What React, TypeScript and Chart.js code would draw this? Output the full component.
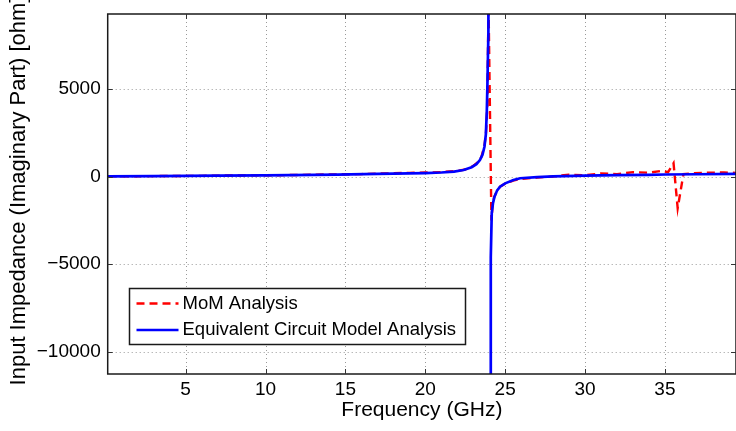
import React, { useEffect, useRef } from "react";
import { Chart, registerables } from "chart.js";

Chart.register(...registerables);

// ---- data ----
const freqEq: (number | null)[] = [
  0.12, 3, 7, 10, 14.5, 17, 19, 20, 21, 21.8, 22.4, 22.9, 23.2, 23.42, 23.58, 23.7, 23.79, 23.85, 23.89, 23.95, 23.99,
  null,
  24.07, 24.1, 24.16, 24.24, 24.33, 24.5, 24.68, 25.0, 25.52, 25.94, 27, 28, 30, 32, 34, 35, 37, 39.45,
];
const imEq: (number | null)[] = [
  20, 30, 60, 80, 120, 160, 190, 210, 240, 290, 380, 540, 720, 950, 1250, 1700, 2400, 3700, 5300, 8200, 30000,
  null,
  -30000, -4600, -2100, -1500, -1150, -780, -570, -380, -190, -90, -20, 20, 60, 90, 110, 125, 140, 160,
];

const freqMoM: number[] = [
  0.12, 2, 4, 6, 8, 10, 12, 14, 16, 18, 19, 20, 21, 22, 22.5, 23, 23.3, 23.5, 23.7, 23.8, 23.88, 23.96,
  24.14, 24.2, 24.3, 24.5, 24.7, 25, 25.5, 26, 27, 28, 29, 30, 31, 32, 33, 34, 34.8, 35.2, 35.54, 35.8,
  36.16, 36.7, 37.7, 38.7, 39.45,
];
const imMoM: number[] = [
  20, 30, 40, 50, 70, 80, 100, 130, 150, 200, 220, 240, 260, 330, 410, 610, 830, 1100, 1750, 2500, 4000, 9800,
  -2500, -1750, -1200, -780, -560, -400, -220, -130, -50, 10, 120, 80, 190, 150, 260, 230, 330, 260, 770, -1800,
  150, 190, 230, 240, 220,
];

const seriesLabels = ["MoM Analysis", "Equivalent Circuit Model Analysis"];
const xTickValues = [5, 10, 15, 20, 25, 30, 35];
const yTickValues = [-10000, -5000, 0, 5000];
const xRange = [0.12, 39.45];
const yRange = [-11274, 9297];
const xTitle = "Frequency (GHz)";
const yTitle = "Input Impedance (Imaginary Part) [ohm]";

const FONT = '"Liberation Sans", Arial, Helvetica, sans-serif';

const fmt = (v: number) => (v < 0 ? "\u2212" + String(Math.abs(v)) : String(v));

const decorPlugin = {
  id: "decor",
  beforeDatasetsDraw(chart: any) {
    const { ctx, chartArea: ca, scales } = chart;
    const x = scales.x, y = scales.y;
    ctx.save();
    ctx.strokeStyle = "#9a9a9a";
    ctx.lineWidth = 1;
    ctx.setLineDash([1, 3]);
    for (const v of xTickValues) {
      const px = Math.round(x.getPixelForValue(v)) + 0.5;
      ctx.beginPath();
      ctx.moveTo(px, ca.top);
      ctx.lineTo(px, ca.bottom);
      ctx.stroke();
    }
    for (const v of yTickValues) {
      const py = Math.round(y.getPixelForValue(v)) + 0.5;
      ctx.beginPath();
      ctx.moveTo(ca.left, py);
      ctx.lineTo(ca.right, py);
      ctx.stroke();
    }
    ctx.restore();
  },
  afterDatasetsDraw(chart: any) {
    const { ctx, chartArea: ca, scales } = chart;
    const x = scales.x, y = scales.y;
    ctx.save();
    // frame
    ctx.setLineDash([]);
    ctx.strokeStyle = "#1a1a1a";
    ctx.lineWidth = 1.5;
    ctx.strokeRect(ca.left, ca.top, ca.right - ca.left, ca.bottom - ca.top);
    // inward ticks
    ctx.lineWidth = 1;
    ctx.strokeStyle = "#333";
    for (const v of xTickValues) {
      const px = Math.round(x.getPixelForValue(v)) + 0.5;
      ctx.beginPath();
      ctx.moveTo(px, ca.bottom);
      ctx.lineTo(px, ca.bottom - 5);
      ctx.moveTo(px, ca.top);
      ctx.lineTo(px, ca.top + 5);
      ctx.stroke();
    }
    for (const v of yTickValues) {
      const py = Math.round(y.getPixelForValue(v)) + 0.5;
      ctx.beginPath();
      ctx.moveTo(ca.left, py);
      ctx.lineTo(ca.left + 5, py);
      ctx.moveTo(ca.right, py);
      ctx.lineTo(ca.right - 5, py);
      ctx.stroke();
    }
    // legend
    const bx = 129.5, by = 288.5, bw = 336, bh = 56;
    ctx.fillStyle = "#ffffff";
    ctx.fillRect(bx, by, bw, bh);
    ctx.strokeStyle = "#1a1a1a";
    ctx.lineWidth = 1.5;
    ctx.strokeRect(bx, by, bw, bh);
    const rows = [
      { label: seriesLabels[0], color: "#ff0000", dash: [8, 5], y: 303.5 },
      { label: seriesLabels[1], color: "#0000ff", dash: [], y: 330 },
    ];
    ctx.font = `18.5px ${FONT}`;
    ctx.textBaseline = "middle";
    ctx.textAlign = "left";
    for (const r of rows) {
      ctx.strokeStyle = r.color;
      ctx.lineWidth = 2.5;
      ctx.setLineDash(r.dash);
      ctx.beginPath();
      ctx.moveTo(136.5, r.y);
      ctx.lineTo(178.5, r.y);
      ctx.stroke();
      ctx.setLineDash([]);
      ctx.fillStyle = "#000";
      ctx.fillText(r.label, 182.5, r.y);
    }
    // axis titles
    ctx.fillStyle = "#000";
    ctx.font = `21px ${FONT}`;
    ctx.textAlign = "center";
    ctx.textBaseline = "alphabetic";
    ctx.fillText(xTitle, (ca.left + ca.right) / 2, 416);
    ctx.save();
    ctx.font = `22px ${FONT}`;
    ctx.translate(25, 191);
    ctx.rotate(-Math.PI / 2);
    ctx.fillText(yTitle, 0, 0);
    ctx.restore();
    ctx.restore();
  },
};

export default function App() {
  const ref = useRef<HTMLCanvasElement | null>(null);
  useEffect(() => {
    document.body.style.margin = "0";
    const canvas = ref.current;
    if (!canvas) return;
    const eqData = freqEq.map((f, i) => ({ x: f === null ? NaN : f, y: imEq[i] }));
    const momData = freqMoM.map((f, i) => ({ x: f, y: imMoM[i] }));
    const chart = new Chart(canvas, {
      type: "line",
      data: {
        datasets: [
          {
            label: seriesLabels[1],
            data: eqData as any,
            borderColor: "#0000ff",
            borderWidth: 2.7,
            pointRadius: 0,
            tension: 0,
            spanGaps: false,
          },
          {
            label: seriesLabels[0],
            data: momData as any,
            borderColor: "#ff0000",
            borderWidth: 2.4,
            borderDash: [8, 5],
            pointRadius: 0,
            tension: 0,
          },
        ],
      },
      options: {
        animation: false,
        responsive: false,
        maintainAspectRatio: false,
        layout: { padding: { top: 14, right: 0, left: 0, bottom: 0 } },
        plugins: { legend: { display: false }, tooltip: { enabled: false } },
        scales: {
          x: {
            type: "linear",
            min: xRange[0],
            max: xRange[1],
            grid: { display: false, drawTicks: false },
            border: { display: false },
            afterBuildTicks: (s: any) => {
              s.ticks = xTickValues.map((v) => ({ value: v }));
            },
            afterFit: (s: any) => {
              s.height = 57;
              s.paddingLeft = 0;
              s.paddingRight = 0;
            },
            ticks: {
              autoSkip: false,
              maxRotation: 0,
              padding: 4,
              color: "#000",
              font: { family: FONT, size: 19 },
              callback: (v: any) => fmt(Number(v)),
            },
          },
          y: {
            type: "linear",
            min: yRange[0],
            max: yRange[1],
            grid: { display: false, drawTicks: false },
            border: { display: false },
            afterBuildTicks: (s: any) => {
              s.ticks = yTickValues.map((v) => ({ value: v }));
            },
            afterFit: (s: any) => {
              s.width = 107.7;
              s.paddingTop = 0;
              s.paddingBottom = 0;
            },
            ticks: {
              autoSkip: false,
              padding: 7,
              color: "#000",
              font: { family: FONT, size: 19 },
              callback: (v: any) => fmt(Number(v)),
            },
          },
        },
      },
      plugins: [decorPlugin],
    });
    return () => chart.destroy();
  }, []);
  return (
    <div style={{ position: "absolute", left: 0, top: 0, width: 736, height: 431 }}>
      <canvas ref={ref} width={736} height={431} style={{ display: "block" }} />
    </div>
  );
}
